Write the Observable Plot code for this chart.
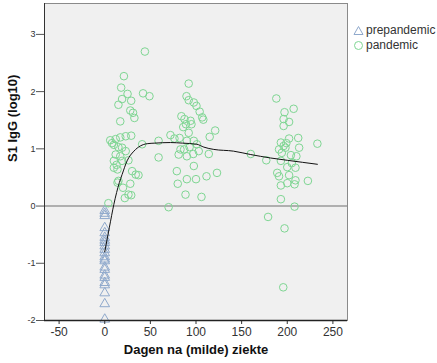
<!DOCTYPE html>
<html>
<head>
<meta charset="utf-8">
<script src="https://cdn.jsdelivr.net/npm/d3@7"></script>
<script src="https://cdn.jsdelivr.net/npm/@observablehq/plot@0.6"></script>
<style>
  html, body { margin: 0; padding: 0; background: #fff; }
  #wrap { position: relative; width: 437px; height: 363px; font-family: "Liberation Sans", Arial, sans-serif; }
  #legend { position: absolute; left: 353px; top: 23px; font-size: 12px; color: #333; line-height: 15px; }
  #legend div { display: flex; align-items: center; white-space: nowrap; }
  #legend svg { margin-right: 2px; }
</style>
</head>
<body>
<div id="wrap">
  <div id="chart"></div>
  <div id="legend">
    <div><svg width="11" height="11"><polygon points="5.5,1.5 10,9.5 1,9.5" fill="none" stroke="#8fa9cc" stroke-width="1"/></svg>prepandemic</div>
    <div><svg width="11" height="11"><circle cx="5.5" cy="5.5" r="4" fill="none" stroke="#7fd693" stroke-width="1"/></svg>pandemic</div>
  </div>
</div>
<script>
// Pandemic samples: days after (mild) illness, S1 IgG (log10)
const pandemicDays = [
  44, 21, 18, 25, 42, 49, 19, 29, 15, 28, 31, 32.5, 17,
  6, 12, 17, 23, 29, 8, 10, 15, 19, 41, 59, 59,
  12, 17, 23, 10, 19, 26, 10, 14, 13, 30, 34, 37, 15, 28, 20, 26, 22, 4, 14, 29,
  70, 88.5, 106, 80, 90, 100, 79, 97.6, 123, 111.5,
  92, 89.6, 92, 97.6, 100.5, 104, 106.8, 108, 84, 87.4, 94, 89, 95, 86,
  121, 115, 72, 76.4, 82, 92, 97.6, 90, 101, 93, 83, 87, 103, 81, 90, 97, 114,
  160, 177,
  188, 207, 197, 196, 202, 196, 202, 212, 193, 198, 191, 213, 233,
  194, 204, 210, 193, 200, 209, 189, 191, 202, 209, 208, 193, 200, 222.6,
  193, 208, 179, 197, 195.6, 196, 199, 205
];
const pandemicValues = [
  2.70, 2.27, 2.07, 1.96, 1.97, 1.92, 1.87, 1.84, 1.77, 1.67, 1.63, 1.54, 1.48,
  1.15, 1.17, 1.20, 1.22, 1.23, 1.10, 1.07, 1.03, 1.02, 1.08, 1.14, 0.85,
  0.90, 0.87, 0.96, 0.79, 0.79, 0.80, 0.67, 0.64, 0.72, 0.61, 0.55, 0.54, 0.44, 0.39, 0.32, 0.20, 0.14, 0.05, 0.41, 0.19,
  -0.02, 0.20, 0.16, 0.39, 0.47, 0.47, 0.61, 0.70, 0.58, 0.52,
  2.14, 1.92, 1.85, 1.81, 1.75, 1.65, 1.55, 1.51, 1.57, 1.52, 1.49, 1.43, 1.43, 1.38,
  1.32, 1.21, 1.24, 1.18, 1.19, 1.28, 1.14, 1.14, 1.08, 1.03, 0.99, 0.99, 0.96, 0.90, 0.87, 0.91, 0.91,
  0.91, 0.80,
  1.88, 1.70, 1.64, 1.52, 1.47, 1.40, 1.18, 1.19, 1.11, 1.02, 0.99, 1.02, 1.09,
  0.93, 0.89, 0.87, 0.79, 0.68, 0.67, 0.58, 0.52, 0.54, 0.45, 0.38, 0.36, 0.40, 0.44,
  0.12, -0.01, -0.19, -0.39, -1.42, 1.05, 1.10, 0.75
];
// Prepandemic samples (all at day 0)
const prepandemicValues = [
  -0.08, -0.13, -0.17, -0.38, -0.47, -0.55, -0.60, -0.64, -0.70, -0.76, -0.82,
  -0.89, -0.93, -0.96, -1.07, -1.11, -1.21, -1.25, -1.34, -1.38, -1.52, -1.71, -1.98
];
// Fit line
const fitDays   = [0, 5, 10, 16, 19, 24.5, 32, 39, 46.5, 55, 72, 85, 101, 108.6, 119.5, 141, 160, 181.7, 200, 233];
const fitValues = [-0.80, -0.38, 0.03, 0.41, 0.55, 0.79, 0.96, 1.05, 1.09, 1.10, 1.11, 1.10, 1.08, 1.03, 0.99, 0.96, 0.90, 0.84, 0.80, 0.73];

const xTicks = [-50, 0, 50, 100, 150, 200, 250];
const yTicks = [-2, -1, 0, 1, 2, 3];
const xLabel = "Dagen na (milde) ziekte";
const yLabel = "S1 IgG (log10)";

const pan = pandemicDays.map((d, i) => ({day: d, value: pandemicValues[i]}));
const pre = prepandemicValues.map(v => ({day: 0, value: v}));
const fit = fitDays.map((d, i) => ({day: d, value: fitValues[i]}));

const chart = Plot.plot({
  width: 437,
  height: 363,
  marginLeft: 44,
  marginRight: 90,
  marginTop: 3,
  marginBottom: 43,
  x: {domain: [-66, 266]},
  y: {domain: [-2, 3.54]},
  style: {fontFamily: "'Liberation Sans', Arial, sans-serif", background: "white", color: "#333"},
  marks: [
    Plot.frame({fill: "#f0f0f0", stroke: null}),
    Plot.ruleY([0], {stroke: "#9a9a9a", strokeWidth: 1.5}),
    Plot.dot(pre, {x: "day", y: "value", symbol: "triangle", r: 3.6, stroke: "#8fa9cc", fill: "none", strokeWidth: 1}),
    Plot.dot(pan, {x: "day", y: "value", r: 3.8, stroke: "#7fd693", fill: "none", strokeWidth: 1}),
    Plot.line(fit, {x: "day", y: "value", stroke: "#111", strokeWidth: 1, curve: "monotone-x"}),
    Plot.frame({stroke: "#8a8a8a"}),
    Plot.axisX({ticks: xTicks, tickFormat: d => String(d), tickSize: 4, tickPadding: 3, fontSize: 12, label: null, stroke: "#333"}),
    Plot.axisY({ticks: yTicks, tickFormat: d => String(d), tickSize: 8, tickPadding: 1, fontSize: 9, label: null, stroke: "#555"}),
    Plot.ruleX([-66], {stroke: "#333"}),
    Plot.ruleY([-2], {stroke: "#222", strokeWidth: 1.5}),
    Plot.text([xLabel], {frameAnchor: "bottom", dy: 33, fontWeight: "bold", fontSize: 13, fill: "#111"}),
    Plot.text([yLabel], {frameAnchor: "left", dx: -32, rotate: -90, fontWeight: "bold", fontSize: 13, fill: "#111"})
  ]
});
document.getElementById("chart").appendChild(chart);
</script>
</body>
</html>
